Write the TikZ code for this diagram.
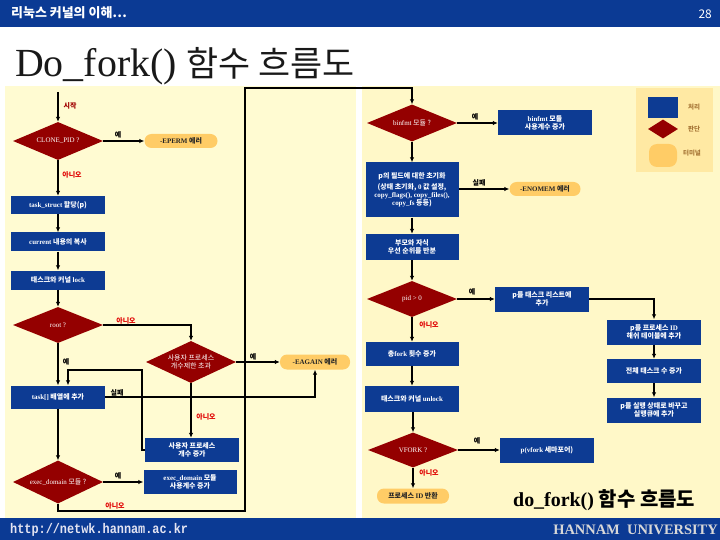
\documentclass[tikz,border=0pt]{standalone}
\usepackage{fontspec}
\setmainfont{Liberation Serif}
\newfontfamily\kr{Noto Sans CJK KR}
\newfontfamily\urlfont{Liberation Mono}
\usetikzlibrary{arrows.meta,shapes.geometric}
\definecolor{hdr}{HTML}{0B3A94}
\definecolor{boxblue}{HTML}{0D3B93}
\definecolor{dred}{HTML}{940000}
\definecolor{term}{HTML}{FFCC66}
\definecolor{panelA}{HTML}{FFFBD2}
\definecolor{panelB}{HTML}{FFF8C8}
\definecolor{legendbg}{HTML}{FFE9A3}
\definecolor{lblred}{HTML}{E00000}
\definecolor{startred}{HTML}{A00000}
\definecolor{legtxt}{HTML}{A87838}
\definecolor{urlc}{HTML}{E4E4F2}
\definecolor{unic}{HTML}{D8D8D8}
\begin{document}
\begin{tikzpicture}[x=1bp,y=-1bp,
  proc/.style={rectangle, fill=boxblue, text=white, font=\kr\bfseries\fontsize{7}{8}\selectfont,
    minimum width=93bp, minimum height=19bp, inner sep=1bp, align=center},
  dec/.style={diamond, fill=dred, text=white, font=\kr\fontsize{7}{8}\selectfont,
    minimum width=90bp, minimum height=38bp, inner sep=0bp, shape aspect=2.3, align=center},
  termn/.style={rectangle, rounded corners=7bp, fill=term, text=black!85,
    font=\kr\bfseries\fontsize{7}{8}\selectfont, minimum width=72bp, minimum height=14bp, inner sep=0bp},
  arr/.style={draw=black, line width=1.2bp, -{Latex[length=5bp,width=4.5bp]}},
  lbl/.style={font=\kr\bfseries\fontsize{7}{7.5}\selectfont, inner sep=0bp, text=black},
  nolbl/.style={lbl, text=lblred}
]
\useasboundingbox (0,0) rectangle (720,540);
% backgrounds
\fill[white] (0,0) rectangle (720,540);
\fill[hdr] (0,0) rectangle (720,27);
\fill[panelA] (5,86) rectangle (356,518);
\fill[panelB] (362,86) rectangle (720,518);
\fill[hdr] (0,518) rectangle (720,540);
% header texts
\node[anchor=west, text=white, font=\kr\bfseries\fontsize{13}{13}\selectfont, inner sep=0] (hd) at (11,13) {리눅스 커널의 이해…};
\node[anchor=east, text=white, font=\kr\fontsize{12}{12}\selectfont, inner sep=0] (pg) at (712,14) {28};
% title
\node[anchor=base west, inner sep=0, text=black!90] (title) at (15,77)
  {\fontsize{40}{40}\selectfont Do\_fork() {\kr\fontsize{35}{35}\selectfont 함수 흐름도}};
% footer
\node[anchor=west, inner sep=0, text=urlc] (url) at (10,530)
  {\scalebox{0.85}[1]{\urlfont\bfseries\fontsize{14}{14}\selectfont http://netwk.hannam.ac.kr}};
\node[anchor=base east, inner sep=0, text=unic] (uni) at (718,534)
  {\bfseries\fontsize{14.5}{14.5}\selectfont HANNAM\ \ UNIVERSITY};
\node[anchor=base west, inner sep=0, text=black] (subt) at (513,506)
  {\bfseries\fontsize{20}{20}\selectfont do\_fork() {\kr\bfseries 함수 흐름도}};
% legend
\fill[legendbg] (636,88) rectangle (713,172);
\node[rectangle, fill=boxblue, minimum width=30bp, minimum height=21bp, inner sep=0] (legp) at (663,107.5) {};
\node[diamond, fill=dred, minimum width=30bp, minimum height=19bp, inner sep=0, shape aspect=1.6] (legd) at (663,129) {};
\node[rectangle, rounded corners=8bp, fill=term, minimum width=28bp, minimum height=23bp, inner sep=0] (legt) at (663,155.5) {};
\node[text=legtxt, font=\kr\bfseries\fontsize{6.5}{7}\selectfont, inner sep=0] (legpt) at (694,107) {처리};
\node[text=legtxt, font=\kr\bfseries\fontsize{6.5}{7}\selectfont, inner sep=0] (legdt) at (694,129) {판단};
\node[text=legtxt, font=\kr\bfseries\fontsize{6.5}{7}\selectfont, inner sep=0] (legtt) at (692,153) {터미널};

% ---- left column nodes
\node[dec] (clone) at (58,141) {{\rmfamily CLONE\_PID ?}};
\node[termn, minimum width=73bp] (eperm) at (181,141) {{\rmfamily -EPERM} 에러};
\node[proc, minimum height=18bp] (ts) at (58,205) {{\rmfamily task\_struct} 할당(p)};
\node[proc] (cur) at (58,242) {{\rmfamily current} 내용의 복사};
\node[proc] (lock) at (58,280) {태스크와 커널 {\rmfamily lock}};
\node[dec, minimum height=36bp] (root) at (58,325) {{\rmfamily root ?}};
\node[dec, minimum width=90bp, minimum height=42bp] (user) at (191,362) {사용자 프로세스\\개수제한 초과};
\node[termn, minimum width=70bp, minimum height=15bp] (eagain) at (315,362) {{\rmfamily -EAGAIN} 에러};
\node[proc, minimum width=94bp, minimum height=24bp] (ucnt) at (192,450) {사용자 프로세스\\개수 증가};
\node[proc, minimum height=23bp] (task) at (58,397) {{\rmfamily task[]} 배열에 추가};
\node[dec, minimum height=43bp] (exec) at (58,482) {{\rmfamily exec\_domain} 모듈 ?};
\node[proc, minimum height=24bp] (execc) at (190,482) {{\rmfamily exec\_domain} 모듈\\사용계수 증가};
% ---- right column nodes
\node[dec, minimum height=37bp] (binfmt) at (412,123) {{\rmfamily binfmt} 모듈 ?};
\node[proc, minimum width=94bp, minimum height=25bp] (binc) at (545,123) {{\rmfamily binfmt} 모듈\\사용계수 증가};
\node[proc, minimum height=55bp] (init) at (412,190) {p의 필드에 대한 초기화\\[3bp](상태 초기화, {\rmfamily 0} 값 설정,\\{\rmfamily copy\_flags(), copy\_files(),}\\{\rmfamily copy\_fs} 등등)};
\node[termn, minimum width=71bp] (enomem) at (545,189) {{\rmfamily -ENOMEM} 에러};
\node[proc, minimum height=26bp] (prio) at (412,247) {부모와 자식\\우선 순위를 반분};
\node[dec, minimum height=36bp] (pid) at (412,299) {{\rmfamily pid > 0}};
\node[proc, minimum width=94bp, minimum height=25bp] (tlist) at (542,299) {p를 태스크 리스트에\\추가};
\node[proc, minimum width=94bp, minimum height=25bp] (hash) at (654,332) {p를 프로세스 {\rmfamily ID}\\해쉬 테이블에 추가};
\node[proc, minimum width=94bp, minimum height=24bp] (total) at (654,371) {전체 태스크 수 증가};
\node[proc, minimum width=94bp, minimum height=25bp] (run) at (654,410) {p를 실행 상태로 바꾸고\\실행큐에 추가};
\node[proc, minimum height=24bp] (fcount) at (412,354) {총{\rmfamily fork} 횟수 증가};
\node[proc, minimum width=94bp, minimum height=26bp] (unlock) at (412,399) {태스크와 커널 {\rmfamily unlock}};
\node[dec, minimum height=35bp] (vfork) at (413,450) {{\rmfamily VFORK ?}};
\node[proc, minimum width=94bp, minimum height=25bp] (vsem) at (547,450) {{\rmfamily p(vfork} 세마포어)};
\node[termn, minimum height=15bp] (ret) at (413,496) {프로세스 {\rmfamily ID} 반환};

% ---- connectors
\coordinate (s0) at (58,92);
\coordinate (botc) at (245,511);
\coordinate (topc) at (412,88);
\coordinate (loopc) at (142,370);
\draw[arr] (s0) -- (clone.north);
\draw[arr] (clone.east) -- (eperm.west);
\draw[arr] (clone.south) -- (ts.north);
\draw[arr] (ts.south) -- (cur.north);
\draw[arr] (cur.south) -- (lock.north);
\draw[arr] (lock.south) -- (root.north);
\draw[arr] (root.east) -| (user.north);
\draw[arr] (user.east) -- (eagain.west);
\draw[arr] (user.south) -- (user.south |- ucnt.north);
\draw[arr] (root.south) -- (task.north);
\draw[arr] (ucnt.west) -| (loopc) -| ([xshift=10bp]task.north);
\draw[arr] (task.east) -| (eagain.south);
\draw[arr] (task.south) -- (exec.north);
\draw[arr] (exec.east) -- (execc.west);
\draw[arr] (exec.south) |- (botc) |- (topc) -- (binfmt.north);
\draw[arr] (binfmt.east) -- (binc.west);
\draw[arr] (binfmt.south) -- (init.north);
\draw[arr] (init.east |- enomem.west) -- (enomem.west);
\draw[arr] (init.south) -- (prio.north);
\draw[arr] (prio.south) -- (pid.north);
\draw[arr] (pid.east) -- (tlist.west);
\draw[arr] (tlist.east) -| (hash.north);
\draw[arr] (hash.south) -- (total.north);
\draw[arr] (total.south) -- (run.north);
\draw[arr] (pid.south) -- (fcount.north);
\draw[arr] (fcount.south) -- (unlock.north);
\draw[arr] (unlock.south -| vfork.north) -- (vfork.north);
\draw[arr] (vfork.east) -- (vsem.west);
\draw[arr] (vfork.south) -- (ret.north);

% ---- connector labels
\node[lbl, text=startred] (lstart) at (70,106) {시작};
\node[lbl] (l1) at (118,135) {예};
\node[nolbl] (l2) at (72,175) {아니오};
\node[nolbl] (l3) at (126,321) {아니오};
\node[lbl] (l4) at (253,357) {예};
\node[lbl] (l5) at (66,362) {예};
\node[nolbl] (l6) at (206,417) {아니오};
\node[lbl] (l7) at (117,393) {실패};
\node[lbl] (l8) at (118,476) {예};
\node[nolbl] (l9) at (115,506) {아니오};
\node[lbl] (l10) at (475,117) {예};
\node[lbl] (l11) at (479,183) {실패};
\node[lbl] (l12) at (472,292) {예};
\node[nolbl] (l13) at (429,325) {아니오};
\node[lbl] (l14) at (477,441) {예};
\node[nolbl] (l15) at (429,473) {아니오};
\end{tikzpicture}
\end{document}
